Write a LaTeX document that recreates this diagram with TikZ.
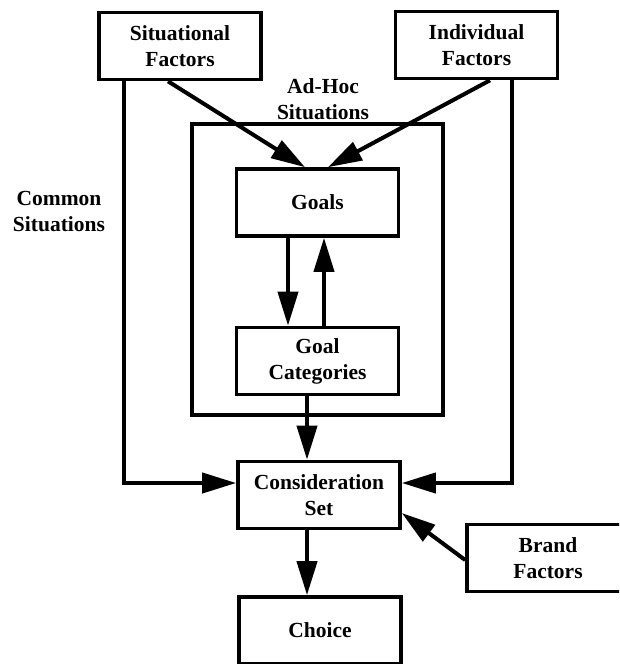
\documentclass[tikz,border=0pt]{standalone}
\usepackage{fontspec}
\setmainfont{Liberation Serif}
\usetikzlibrary{arrows.meta}

\begin{document}
\begin{tikzpicture}[x=1pt,y=-1pt,
  txt/.style={font=\fontsize{21.5}{26}\selectfont\bfseries, align=center, inner sep=0pt},
  box/.style={txt, draw, line width=3.6pt, minimum width=162pt, minimum height=67pt},
  frame/.style={draw, line width=3.4pt, inner sep=0pt},
  flow/.style={line width=4pt, -{Triangle[length=34pt,width=20pt]}}
]
\useasboundingbox (0,0) rectangle (619,664);
\clip (0,0) rectangle (619,664);

% factor boxes along the top
\node[box] (sit) at (180,46) {Situational\\Factors};
\node[box] (ind) at (476.5,45) {Individual\\Factors};

% ad-hoc frame holding goals and goal categories
\node[frame, minimum width=251pt, minimum height=291pt] (adhoc) at (317.5,269.5) {};
\node[txt] (adhoclbl) at (323,99.5) {Ad-Hoc\\Situations};
\node[txt] (common) at (59,211.5) {Common\\Situations};

\node[box] (goals) at (317.5,202.5) {Goals};
\node[box] (gc) at (317.5,361) {Goal\\Categories};
\node[box] (cons) at (319,495) {Consideration\\Set};
\node[box] (choice) at (320,630.5) {Choice};
\node[box] (brand) at (548,558) {Brand\\Factors};

% connectors
\draw[flow] ([xshift=-12pt]sit.south) -- ([xshift=-12.5pt]goals.north);
\draw[flow] ([xshift=13.5pt]ind.south) -- ([xshift=10.5pt]goals.north);
\draw[flow] ([xshift=-29.5pt]goals.south) -- ([xshift=-29.5pt]gc.north);
\draw[flow] ([xshift=6.5pt]gc.north) -- ([xshift=6.5pt]goals.south);
\draw[flow] ([xshift=-10.5pt]gc.south) -- ([xshift=-12pt]cons.north);
\draw[flow] ([xshift=-56pt]sit.south) |- ([yshift=12pt]cons.west);
\draw[flow] ([xshift=35.5pt]ind.south) |- ([yshift=12pt]cons.east);
\draw[flow] ([yshift=-2pt]brand.west) -- ([yshift=-18pt]cons.east);
\draw[flow] ([xshift=-12pt]cons.south) -- ([xshift=-13pt]choice.north);
\end{tikzpicture}
\end{document}
